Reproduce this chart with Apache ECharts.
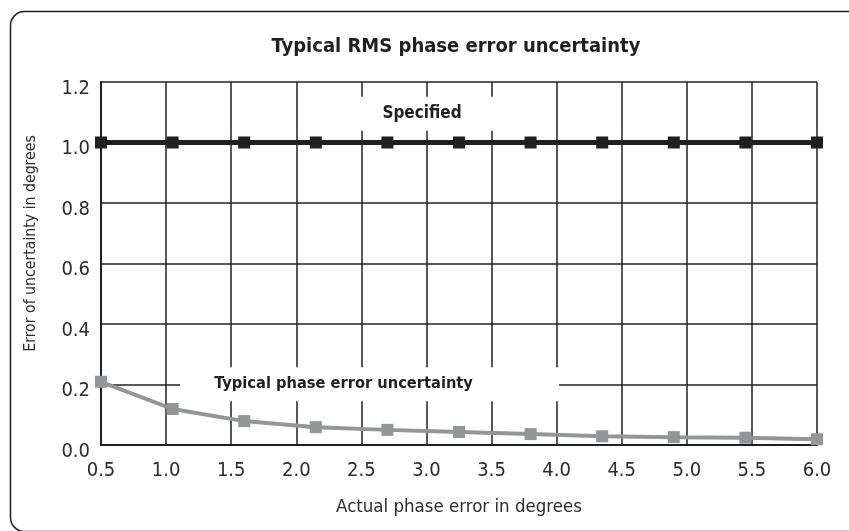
<!DOCTYPE html>
<html>
<head>
<meta charset="utf-8">
<script src="https://cdn.jsdelivr.net/npm/echarts@6/dist/echarts.min.js"></script>
<style>
html,body{margin:0;padding:0;background:#fff;}
#chart{width:849px;height:531px;}
</style>
</head>
<body>
<div id="chart"></div>
<script>
var xValues = [0.5, 1.05, 1.6, 2.15, 2.7, 3.25, 3.8, 4.35, 4.9, 5.45, 6.0];
var specified = [1.0, 1.0, 1.0, 1.0, 1.0, 1.0, 1.0, 1.0, 1.0, 1.0, 1.0];
var typical = [0.209, 0.119, 0.079, 0.059, 0.050, 0.043, 0.036, 0.029, 0.026, 0.024, 0.019];
var xTicks = ['0.5','1.0','1.5','2.0','2.5','3.0','3.5','4.0','4.5','5.0','5.5','6.0'];
var yTicks = ['0.0','0.2','0.4','0.6','0.8','1.0','1.2'];

var FONT = "'Liberation Sans Narrow','DejaVu Sans Condensed','Liberation Sans',sans-serif";
var INK = '#231f20';
var GRAY = '#939598';
var TXT = '#2b2b2b';

function pairs(xs, ys){ return xs.map(function(x,i){ return [x, ys[i]]; }); }

var chart = echarts.init(document.getElementById('chart'), null, {renderer:'canvas'});
chart.setOption({
  animation:false,
  backgroundColor:'#fff',
  title:{
    text:'Typical RMS phase error uncertainty',
    left:451, top:32, textAlign:'center',
    textStyle:{fontFamily:FONT, fontWeight:'bold', fontSize:20, color:INK}
  },
  graphic:[{
    type:'rect', left:8, top:9, z:-1,
    shape:{width:900, height:520, r:14},
    style:{fill:'none', stroke:'#231f20', lineWidth:1.5}
  }],
  grid:{left:101, right:32, top:82, bottom:86},
  xAxis:{
    type:'value', min:0.5, max:6.0, interval:0.5,
    name:'Actual phase error in degrees', nameLocation:'middle', nameGap:53,
    nameTextStyle:{fontFamily:FONT, fontSize:18.5, color:TXT},
    axisLine:{show:true, lineStyle:{color:INK, width:2}},
    axisTick:{show:false},
    axisLabel:{fontFamily:FONT, fontSize:20, color:TXT, margin:16,
      formatter:function(v){ var i = Math.round((v-0.5)/0.5); return xTicks[i] !== undefined ? xTicks[i] : ''; }},
    splitLine:{show:true, lineStyle:{color:INK, width:1.5}}
  },
  yAxis:{
    type:'value', min:0, max:1.2, interval:0.2,
    name:'Error of uncertainty in degrees', nameLocation:'middle', nameGap:62,
    nameTextStyle:{fontFamily:FONT, fontSize:15.7, color:TXT, padding:[0,0,0,40]},
    axisLine:{show:true, lineStyle:{color:INK, width:2}},
    axisTick:{show:false},
    axisLabel:{fontFamily:FONT, fontSize:20, color:TXT, margin:11, verticalAlign:'top', lineHeight:13,
      formatter:function(v){ var i = Math.round(v/0.2); return yTicks[i] !== undefined ? yTicks[i] : ''; }},
    splitLine:{show:true, lineStyle:{color:INK, width:1.5}}
  },
  series:[
    {
      name:'Specified', type:'line', data:pairs(xValues, specified),
      symbol:'rect', symbolSize:12, z:5,
      lineStyle:{color:INK, width:5}, itemStyle:{color:INK},
      markPoint:{
        silent:true, symbol:'rect', symbolSize:[245,34],
        itemStyle:{color:'#fff'},
        label:{show:true, position:'inside', formatter:'Specified',
          fontFamily:FONT, fontWeight:'bold', fontSize:17, color:INK},
        data:[{coord:[2.966, 1.095]}]
      }
    },
    {
      name:'Typical phase error uncertainty', type:'line', data:pairs(xValues, typical),
      symbol:'rect', symbolSize:12, z:5,
      lineStyle:{color:GRAY, width:4}, itemStyle:{color:GRAY},
      markPoint:{
        silent:true, symbol:'rect', symbolSize:[379,34],
        itemStyle:{color:'#fff'},
        label:{show:true, position:'inside', offset:[-26,0], formatter:'Typical phase error uncertainty',
          fontFamily:FONT, fontWeight:'bold', fontSize:16.3, color:INK},
        data:[{coord:[2.563, 0.201]}]
      }
    }
  ]
});
</script>
</body>
</html>
